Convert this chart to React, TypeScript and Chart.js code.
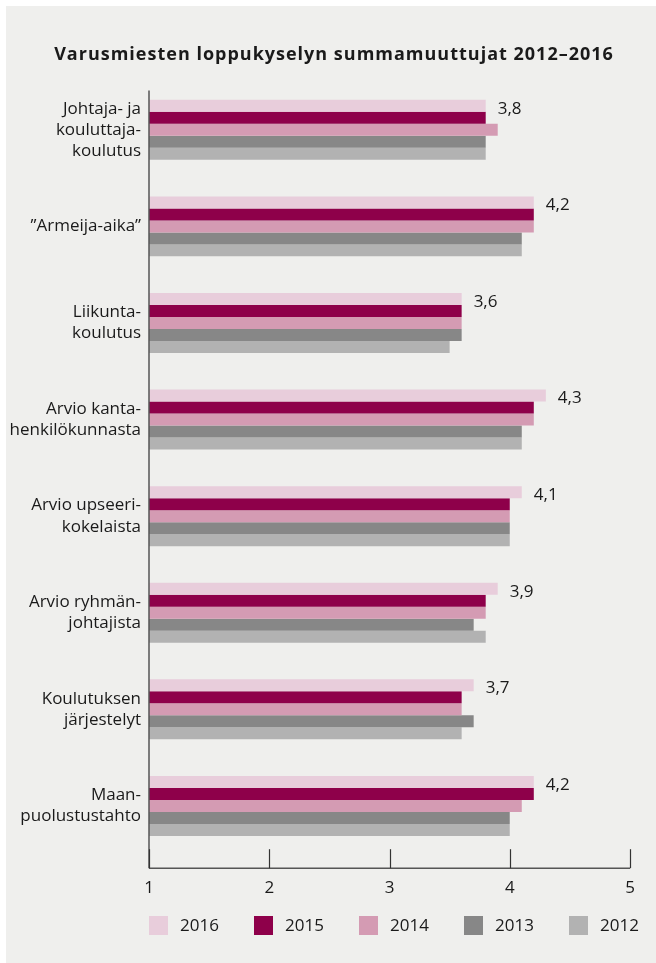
import React, { useEffect, useRef } from "react";
import { Chart, registerables } from "chart.js";

Chart.register(...registerables);

const TITLE = "Varusmiesten loppukyselyn summamuuttujat 2012–2016";

const categories: string[][] = [
  ["Johtaja- ja", "kouluttaja-", "koulutus"],
  ["”Armeija-aika”"],
  ["Liikunta-", "koulutus"],
  ["Arvio kanta-", "henkilökunnasta"],
  ["Arvio upseeri-", "kokelaista"],
  ["Arvio ryhmän-", "johtajista"],
  ["Koulutuksen", "järjestelyt"],
  ["Maan-", "puolustustahto"],
];

const years = ["2016", "2015", "2014", "2013", "2012"];

const values2016 = [3.8, 4.2, 3.6, 4.3, 4.1, 3.9, 3.7, 4.2];
const values2015 = [3.8, 4.2, 3.6, 4.2, 4.0, 3.8, 3.6, 4.2];
const values2014 = [3.9, 4.2, 3.6, 4.2, 4.0, 3.8, 3.6, 4.1];
const values2013 = [3.8, 4.1, 3.6, 4.1, 4.0, 3.7, 3.7, 4.0];
const values2012 = [3.8, 4.1, 3.5, 4.1, 4.0, 3.8, 3.6, 4.0];

const xTicks = [1, 2, 3, 4, 5];

const colors = ["#e8cddb", "#8e004a", "#d49bb3", "#878787", "#b2b2b2"];

const FONT = "'Open Sans', 'Noto Sans', sans-serif";
const TEXT = "#1a1a1a";

const backgroundPlugin = {
  id: "bg",
  beforeDraw(chart: any) {
    const { ctx, width, height } = chart;
    ctx.save();
    ctx.fillStyle = "#ffffff";
    ctx.fillRect(0, 0, width, height);
    ctx.fillStyle = "#efefed";
    ctx.fillRect(6, 6, width - 6, height - 6);
    ctx.restore();
  },
};

const decorPlugin = {
  id: "decor",
  afterDatasetsDraw(chart: any) {
    const { ctx, chartArea } = chart;
    const xs = chart.scales.x;
    ctx.save();
    // title
    ctx.fillStyle = TEXT;
    ctx.font = `bold 18px ${FONT}`;
    ctx.textAlign = "center";
    ctx.textBaseline = "middle";
    try {
      (ctx as any).letterSpacing = "1px";
    } catch (e) {}
    ctx.fillText(TITLE, 334, 55);
    try {
      (ctx as any).letterSpacing = "0px";
    } catch (e) {}

    // axes
    const x0 = xs.getPixelForValue(xTicks[0]);
    const axisY = chartArea.bottom + 14;
    ctx.strokeStyle = "#555555";
    ctx.lineWidth = 1.5;
    ctx.beginPath();
    ctx.moveTo(x0, chartArea.top + 9);
    ctx.lineTo(x0, axisY);
    ctx.moveTo(x0, axisY);
    ctx.lineTo(xs.getPixelForValue(xTicks[xTicks.length - 1]), axisY);
    ctx.stroke();
    ctx.strokeStyle = "#333333";
    ctx.lineWidth = 1.2;
    xTicks.forEach((t) => {
      const px = Math.round(xs.getPixelForValue(t)) + 0.5;
      ctx.beginPath();
      ctx.moveTo(px, axisY);
      ctx.lineTo(px, axisY - 19);
      ctx.stroke();
    });

    // value labels for 2016
    const meta = chart.getDatasetMeta(0);
    ctx.font = `17px ${FONT}`;
    ctx.textAlign = "left";
    ctx.textBaseline = "middle";
    ctx.fillStyle = TEXT;
    meta.data.forEach((bar: any, i: number) => {
      const v = chart.data.datasets[0].data[i] as number;
      ctx.fillText(v.toFixed(1).replace(".", ","), bar.x + 12, bar.y + 3);
    });

    // legend
    const step = 105;
    const legendY = 925.5;
    ctx.font = `17px ${FONT}`;
    chart.data.datasets.forEach((ds: any, i: number) => {
      const lx = chartArea.left + i * step;
      ctx.fillStyle = ds.backgroundColor;
      ctx.fillRect(lx, legendY - 9.5, 19, 19);
      ctx.fillStyle = TEXT;
      ctx.fillText(ds.label, lx + 31, legendY + 1);
    });
    ctx.restore();
  },
};

export default function App() {
  const ref = useRef<HTMLCanvasElement | null>(null);

  useEffect(() => {
    if (!ref.current) return;
    const series = [values2016, values2015, values2014, values2013, values2012];
    const chart = new Chart(ref.current, {
      type: "bar",
      data: {
        labels: categories,
        datasets: years.map((y, i) => ({
          label: y,
          data: series[i],
          backgroundColor: colors[i],
          borderWidth: 0,
          barPercentage: 1,
          categoryPercentage: 0.621,
        })),
      },
      options: {
        indexAxis: "y",
        responsive: false,
        animation: false,
        devicePixelRatio: 1,
        layout: { padding: { top: 81.5, left: 0, right: 26, bottom: 68.8 } },
        plugins: {
          legend: { display: false },
          title: { display: false },
          tooltip: { enabled: false },
        },
        scales: {
          x: {
            type: "linear",
            min: 1,
            max: 5,
            afterBuildTicks(scale: any) {
              scale.ticks = xTicks.map((v) => ({ value: v }));
            },
            afterFit(scale: any) {
              scale.height = 40;
              scale.paddingLeft = 0;
              scale.paddingRight = 0;
            },
            grid: { display: false, drawTicks: false },
            border: { display: false },
            ticks: {
              padding: 24,
              color: TEXT,
              font: { family: FONT, size: 17 },
              maxRotation: 0,
            },
          },
          y: {
            afterFit(scale: any) {
              scale.width = 149;
              scale.paddingTop = 0;
              scale.paddingBottom = 0;
            },
            grid: { display: false, drawTicks: false },
            border: { display: false },
            ticks: {
              padding: 8,
              color: TEXT,
              font: { family: FONT, size: 17, lineHeight: 1.24 },
              autoSkip: false,
            },
          },
        },
      },
      plugins: [backgroundPlugin, decorPlugin],
    });
    return () => chart.destroy();
  }, []);

  return (
    <div style={{ position: "absolute", left: 0, top: 0, width: 656, height: 963, background: "#fff" }}>
      <canvas ref={ref} width={656} height={963} style={{ width: 656, height: 963, display: "block" }} />
    </div>
  );
}
